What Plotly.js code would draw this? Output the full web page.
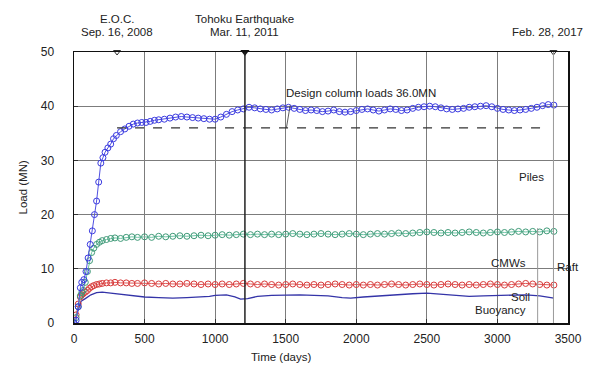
<!DOCTYPE html>
<html>
<head>
<meta charset="utf-8">
<script src="https://cdn.plot.ly/plotly-3.0.1.min.js"></script>
<style>
  html, body { margin: 0; padding: 0; background: #fff; }
  #chart { width: 597px; height: 367px; }
</style>
</head>
<body>
<div id="chart"></div>
<script>
// Measured load sharing of the piled raft foundation (MN) against elapsed time (days)

// Piles
const pileDays = [0,15,30,45,55,70,85,100,115,130,
  145,160,175,190,205,220,240,260,280,300,
  330,360,390,420,450,480,510,540,570,600,
  640,680,720,760,800,840,880,920,960,1000,
  1040,1080,1120,1160,1200,1240,1280,1320,1360,1400,
  1440,1480,1520,1560,1600,1640,1680,1720,1760,1800,
  1840,1880,1920,1960,2000,2040,2080,2120,2160,2200,
  2240,2280,2320,2360,2400,2440,2480,2520,2560,2600,
  2640,2680,2720,2760,2800,2840,2880,2920,2960,3000,
  3040,3080,3120,3160,3200,3240,3280,3320,3360,3400];
const pileLoads = [0,0.5,3,6.5,7.5,8,9.5,12,14.5,17,
  20,22.5,26,29.5,30.5,31.5,32.3,33,34,34.6,
  35.3,35.8,36.3,36.7,36.9,37,37,37.2,37.4,37.5,
  37.6,37.8,38,38.1,38,37.9,37.8,37.7,37.6,37.6,
  38.0,38.5,39.0,39.3,39.5,39.8,39.7,39.5,39.4,39.3,
  39.5,39.7,39.8,39.6,39.4,39.2,39.3,39.2,39.0,39.1,
  39.3,39.0,38.9,39.0,39.2,39.4,39.5,39.3,39.1,39.3,
  39.5,39.4,39.2,39.3,39.6,39.8,39.9,40.0,39.9,39.7,
  39.5,39.4,39.5,39.6,39.8,39.9,40.0,40.1,39.9,39.6,
  39.4,39.3,39.2,39.3,39.4,39.6,39.8,40.1,40.3,40.2];

// CMWs and raft share the same reading dates
const gaugeDays = [0,15,30,45,55,65,80,95,110,125,
  140,160,180,200,230,260,290,330,370,410,
  450,500,550,600,650,700,750,800,850,900,
  950,1000,1050,1100,1150,1200,1250,1300,1350,1400,
  1450,1500,1550,1600,1650,1700,1750,1800,1850,1900,
  1950,2000,2050,2100,2150,2200,2250,2300,2350,2400,
  2450,2500,2550,2600,2650,2700,2750,2800,2850,2900,
  2950,3000,3050,3100,3150,3200,3250,3300,3350,3400];
const cmwLoads = [0,1.0,3.0,5.0,5.6,6.0,7.5,9.5,11.5,13.0,
  13.8,14.5,14.9,15.2,15.4,15.6,15.7,15.6,15.8,15.9,
  15.8,15.9,15.8,16.0,15.9,16.0,16.1,16.0,16.1,16.2,
  16.1,16.2,16.3,16.2,16.3,16.4,16.3,16.4,16.3,16.4,
  16.3,16.4,16.5,16.4,16.3,16.4,16.5,16.4,16.3,16.4,
  16.5,16.4,16.3,16.4,16.5,16.4,16.5,16.6,16.5,16.6,
  16.7,16.8,16.7,16.6,16.7,16.6,16.7,16.8,16.7,16.6,
  16.7,16.8,16.7,16.8,16.9,16.8,16.9,16.8,17.0,16.9];
const raftLoads = [0,1.5,3.5,4.8,5.2,5.4,5.7,6.0,6.4,6.7,
  6.9,7.1,7.2,7.3,7.4,7.4,7.5,7.4,7.4,7.3,
  7.3,7.4,7.3,7.2,7.3,7.2,7.2,7.3,7.2,7.1,
  7.2,7.1,7.2,7.1,7.2,7.3,7.2,7.1,7.2,7.1,
  7.0,7.1,7.2,7.1,7.0,7.1,7.0,7.1,7.2,7.1,
  7.0,7.1,7.0,7.1,7.0,7.1,7.2,7.1,7.0,7.1,
  7.2,7.1,7.0,7.1,7.2,7.1,7.0,7.1,7.0,7.1,
  7.2,7.1,7.0,7.1,7.2,7.3,7.2,7.1,7.0,7.0];

// Soil buoyancy
const soilDays = [0,25,50,80,120,160,200,260,330,400,
  500,600,700,800,900,960,1000,1080,1140,1180,
  1230,1300,1400,1500,1600,1700,1800,1900,1960,2050,
  2150,2250,2310,2400,2500,2600,2700,2800,2900,3000,
  3100,3200,3300,3400];
const soilLoads = [0,2,4,4.5,5.2,5.6,5.7,5.5,5.3,5.1,
  4.8,4.7,4.6,4.7,4.8,4.9,5.1,5.2,4.8,4.4,
  4.5,4.9,5.1,5.2,5.2,5.1,5.0,4.7,4.6,4.8,
  5.0,5.1,5.2,5.4,5.5,5.3,5.0,4.9,5.0,5.1,
  5.2,5.2,5.0,4.6];

// Design column load
const designLoad = 36.0;
const designRange = [305, 3360];
const designArrowDay = 1505;

// Events
const eocDay = 305;
const quakeDay = 1211;
const latestDay = 3397;
const gaugeMarkDay = 3285;

const eventTexts = {
  eoc: ["E.O.C.", "Sep. 16, 2008"],
  quake: ["Tohoku Earthquake", "Mar. 11, 2011"],
  latest: ["Feb. 28, 2017"]
};

const FONT = "Arial, 'Liberation Sans', sans-serif";

const traces = [
  {
    x: soilDays, y: soilLoads, mode: "lines", name: "Soil Buoyancy",
    line: {color: "#3434a8", width: 1.3}
  },
  {
    x: gaugeDays, y: raftLoads, mode: "lines+markers", name: "Raft",
    line: {color: "#e05a5a", width: 1},
    marker: {symbol: "circle-open", size: 6, color: "#d83a3a", line: {width: 1}}
  },
  {
    x: gaugeDays, y: cmwLoads, mode: "lines+markers", name: "CMWs",
    line: {color: "#6cc4a4", width: 1},
    marker: {symbol: "circle-open", size: 6, color: "#3f9a78", line: {width: 1}}
  },
  {
    x: pileDays, y: pileLoads, mode: "lines+markers", name: "Piles",
    line: {color: "#5050e0", width: 1},
    marker: {symbol: "circle-open", size: 6, color: "#3a3ae0", line: {width: 1}}
  },
  {
    x: designRange, y: [designLoad, designLoad], mode: "lines", name: "Design",
    line: {color: "#333", width: 1.2, dash: "dash"}
  },
  {
    x: [quakeDay], y: [50], mode: "markers", cliponaxis: false,
    marker: {symbol: "triangle-down", size: 8, color: "#111"}
  },
  {
    x: [eocDay, latestDay], y: [50, 50], mode: "markers", cliponaxis: false,
    marker: {symbol: "triangle-down-open", size: 6, color: "#333", line: {width: 1}}
  }
];

const axisCommon = {
  showline: true, mirror: true, linecolor: "#111", linewidth: 1.5,
  showgrid: true, gridcolor: "#7c7c7c", gridwidth: 1,
  zeroline: false, ticks: "inside", ticklen: 4, tickcolor: "#333",
  tickfont: {family: FONT, size: 12, color: "#222"}
};

const ann = (x, y, text, opts) => Object.assign({
  x: x, y: y, xref: "x", yref: "y", text: text, showarrow: false,
  font: {family: FONT, size: 11.5, color: "#222"}
}, opts || {});

const layout = {
  width: 597, height: 367,
  margin: {l: 74, r: 29, t: 52, b: 44},
  paper_bgcolor: "#fff", plot_bgcolor: "#fff",
  showlegend: false,
  xaxis: Object.assign({range: [0, 3500], dtick: 500, tick0: 0, ticklabelstandoff: 4}, axisCommon),
  yaxis: Object.assign({range: [0, 50], dtick: 10, tick0: 0, ticklabelstandoff: 16}, axisCommon),
  shapes: [
    {type: "line", xref: "x", yref: "y", x0: quakeDay, x1: quakeDay, y0: 0, y1: 50,
     line: {color: "#222", width: 1.5}},
    {type: "line", xref: "x", yref: "y", x0: latestDay, x1: latestDay, y0: 0, y1: 50,
     line: {color: "#999", width: 1}},
    {type: "line", xref: "x", yref: "y", x0: gaugeMarkDay, x1: gaugeMarkDay, y0: 0, y1: 17.5,
     line: {color: "#999", width: 1}}
  ],
  annotations: [
    // axis titles
    {xref: "paper", yref: "paper", x: 0.42, y: 0, yshift: -34, yanchor: "middle",
     xanchor: "center", showarrow: false,
     text: "Time (days)", font: {family: FONT, size: 11.5, color: "#222"}},
    {xref: "paper", yref: "paper", x: 0, xshift: -52, y: 0.5, xanchor: "center",
     yanchor: "middle", showarrow: false, textangle: -90,
     text: "Load (MN)", font: {family: FONT, size: 11.5, color: "#222"}},
    // events
    ann(eocDay, 50, eventTexts.eoc[0], {yshift: 33}),
    ann(eocDay, 50, eventTexts.eoc[1], {yshift: 20}),
    ann(quakeDay, 50, eventTexts.quake[0], {yshift: 33}),
    ann(quakeDay, 50, eventTexts.quake[1], {yshift: 20}),
    ann(latestDay, 50, eventTexts.latest[0], {yshift: 20, xshift: -6}),
    // design load pointer
    {x: designArrowDay, y: designLoad, xref: "x", yref: "y", ax: 4, ay: -24,
     showarrow: true, arrowhead: 0, arrowwidth: 0.8,
     arrowcolor: "#333", text: "", standoff: 0},
    ann(1490, 39.5, "Design column loads " + designLoad.toFixed(1) + "MN",
        {xanchor: "left", yanchor: "bottom", yshift: 8}),
    // series labels
    ann(3240, 27, "Piles"),
    ann(3080, 11, "CMWs"),
    ann(3500, 10.4, "Raft"),
    ann(3165, 4.8, "Soil"),
    ann(3020, 2.4, "Buoyancy")
  ]
};

Plotly.newPlot("chart", traces, layout, {displayModeBar: false, staticPlot: true});
</script>
</body>
</html>
